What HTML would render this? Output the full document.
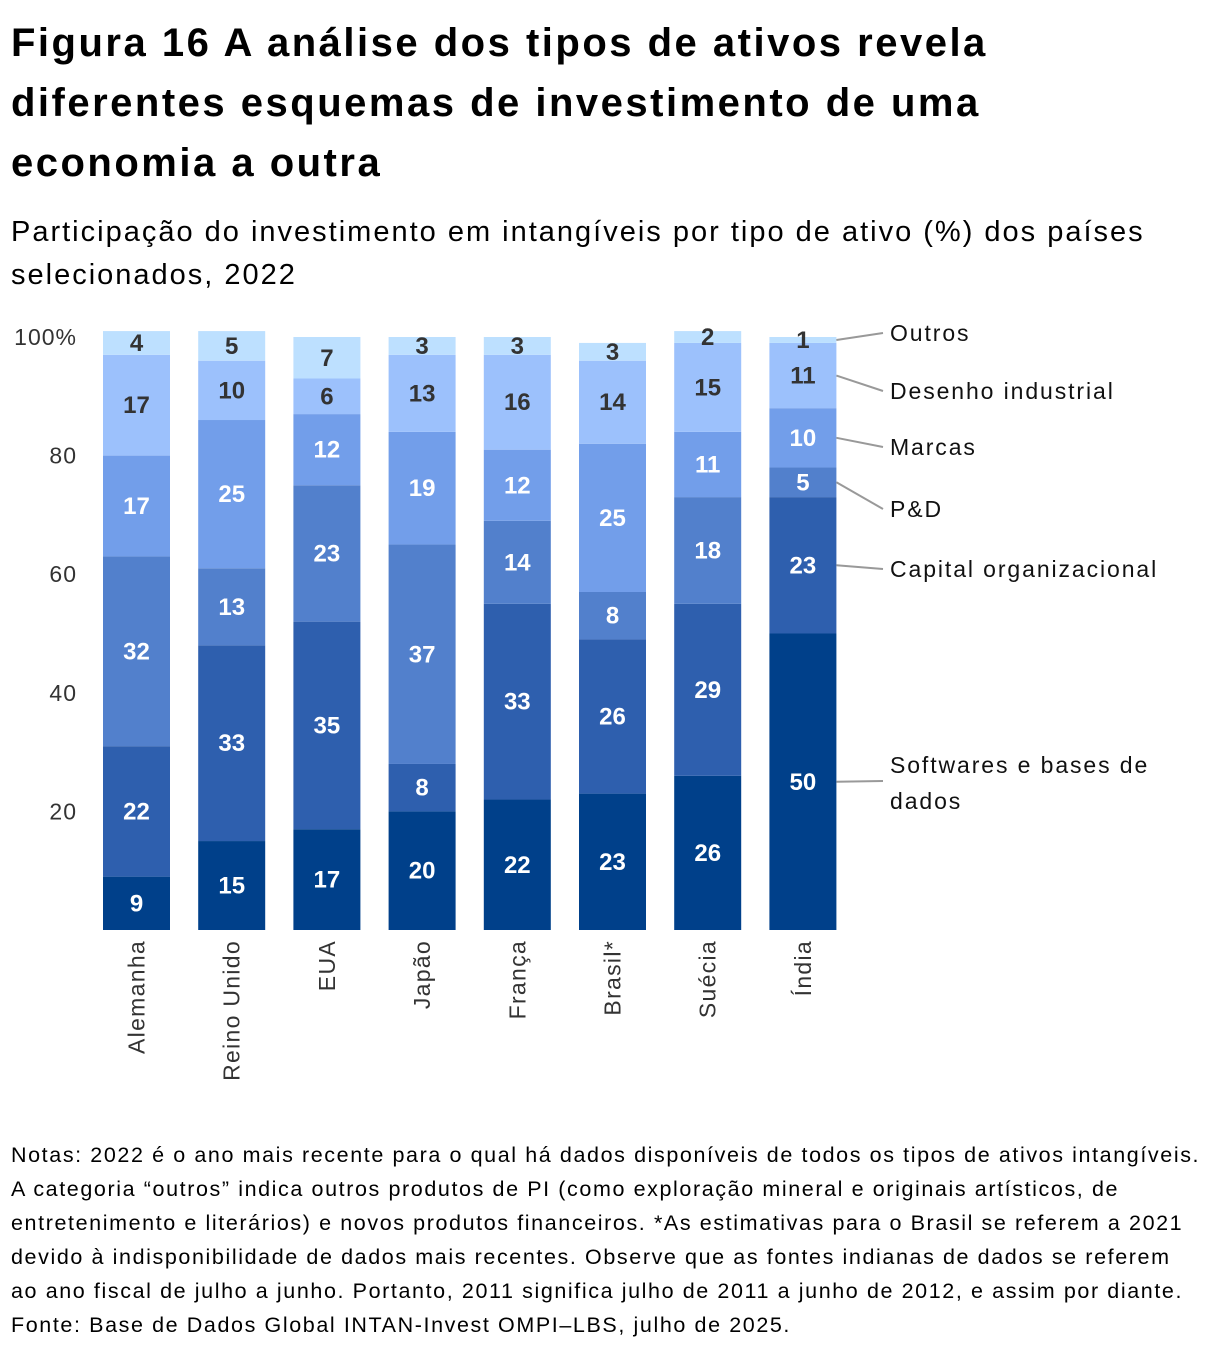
<!DOCTYPE html>
<html><head><meta charset="utf-8"><style>
body{margin:0;background:#fff;width:1220px;height:1352px;overflow:hidden;font-family:"Liberation Sans","DejaVu Sans",sans-serif;color:#000}
#title{position:absolute;left:11px;top:13px;font-size:40px;letter-spacing:2.5px;font-weight:bold;line-height:60px;margin:0;white-space:nowrap}
#sub{position:absolute;left:11px;top:211px;font-size:29px;letter-spacing:2px;line-height:43px;white-space:nowrap}
#notes{position:absolute;left:11px;top:1138px;font-size:21.5px;letter-spacing:1.6px;line-height:34px;white-space:nowrap}
svg{position:absolute;left:0;top:0}
</style></head><body>
<h1 id="title">Figura 16 A análise dos tipos de ativos revela<br>diferentes esquemas de investimento de uma<br>economia a outra</h1>
<div id="sub">Participação do investimento em intangíveis por tipo de ativo (%) dos países<br>selecionados, 2022</div>
<svg id="chart" width="1220" height="1352"></svg>
<div id="notes">Notas: 2022 é o ano mais recente para o qual há dados disponíveis de todos os tipos de ativos intangíveis.<br>A categoria “outros” indica outros produtos de PI (como exploração mineral e originais artísticos, de<br>entretenimento e literários) e novos produtos financeiros. *As estimativas para o Brasil se referem a 2021<br>devido à indisponibilidade de dados mais recentes. Observe que as fontes indianas de dados se referem<br>ao ano fiscal de julho a junho. Portanto, 2011 significa julho de 2011 a junho de 2012, e assim por diante.<br>Fonte: Base de Dados Global INTAN-Invest OMPI–LBS, julho de 2025.</div>
<script>
const countries=["Alemanha","Reino Unido","EUA","Japão","França","Brasil*","Suécia","Índia"];
const series=["Softwares e bases de dados","Capital organizacional","P&D","Marcas","Desenho industrial","Outros"];
const software=[9,15,17,20,22,23,26,50];
const capital=[22,33,35,8,33,26,29,23];
const pd=[32,13,23,37,14,8,18,5];
const marcas=[17,25,12,19,12,25,11,10];
const desenho=[17,10,6,13,16,14,15,11];
const outros=[4,5,7,3,3,3,2,1];
const yTicks=[20,40,60,80,100];
const colors=["#00408a","#2e5fae","#5280cc","#729eea","#9cc1fc","#bde0ff"];
const textColors=["#fff","#fff","#fff","#fff","#333","#333"];
const legendY=[781,569,509,447,391,333];
const vals=[software,capital,pd,marcas,desenho,outros];
const svg=document.getElementById('chart');
const NS='http://www.w3.org/2000/svg';
const y0=930,pxPer=5.93;
const Y=v=>y0-v*pxPer;
const bw=67;
const X=i=>103+i*95.2;
function mk(t,a){const e=document.createElementNS(NS,t);for(const k in a)e.setAttribute(k,a[k]);svg.appendChild(e);return e;}
yTicks.forEach(t=>{
 const e=mk('text',{x:77,y:Y(t)+8,'text-anchor':'end','font-size':23,'letter-spacing':1,fill:'#333'});
 e.textContent=t===100?'100%':t;
 
 
});
countries.forEach((c,i)=>{
 let acc=0;
 vals.forEach((arr,s)=>{
  const v=arr[i];
  const r=mk('rect',{x:X(i),y:Y(acc+v),width:bw,height:v*pxPer,fill:colors[s]});
  
  
  const t=mk('text',{x:X(i)+bw/2,y:Y(acc+v/2)+8,'text-anchor':'middle','font-size':24,'font-weight':'bold',fill:textColors[s]});
  t.textContent=v;
  
  
  if(i===countries.length-1){
   const ly=Y(acc+v/2);
   const l=mk('line',{x1:X(i)+bw,y1:ly,x2:883,y2:legendY[s],stroke:'#999','stroke-width':2});
   
   
  }
  acc+=v;
 });
 const xl=mk('text',{transform:`translate(${X(i)+bw/2+8},940) rotate(-90)`,'text-anchor':'end','font-size':23,'letter-spacing':1.3,fill:'#333'});
 xl.textContent=c;
 
 
});
series.forEach((s,k)=>{
 const t=mk('text',{x:890,y:legendY[k]+8,'font-size':23,'letter-spacing':1.9,fill:'#111'});
 if(k===0){
  const a=document.createElementNS(NS,'tspan');a.setAttribute('x',890);a.setAttribute('y',legendY[k]-8);a.textContent='Softwares e bases de';t.appendChild(a);
  const b=document.createElementNS(NS,'tspan');b.setAttribute('x',890);b.setAttribute('y',legendY[k]+28);b.textContent='dados';t.appendChild(b);
 } else t.textContent=s;
 
 
});
</script>
</body></html>
